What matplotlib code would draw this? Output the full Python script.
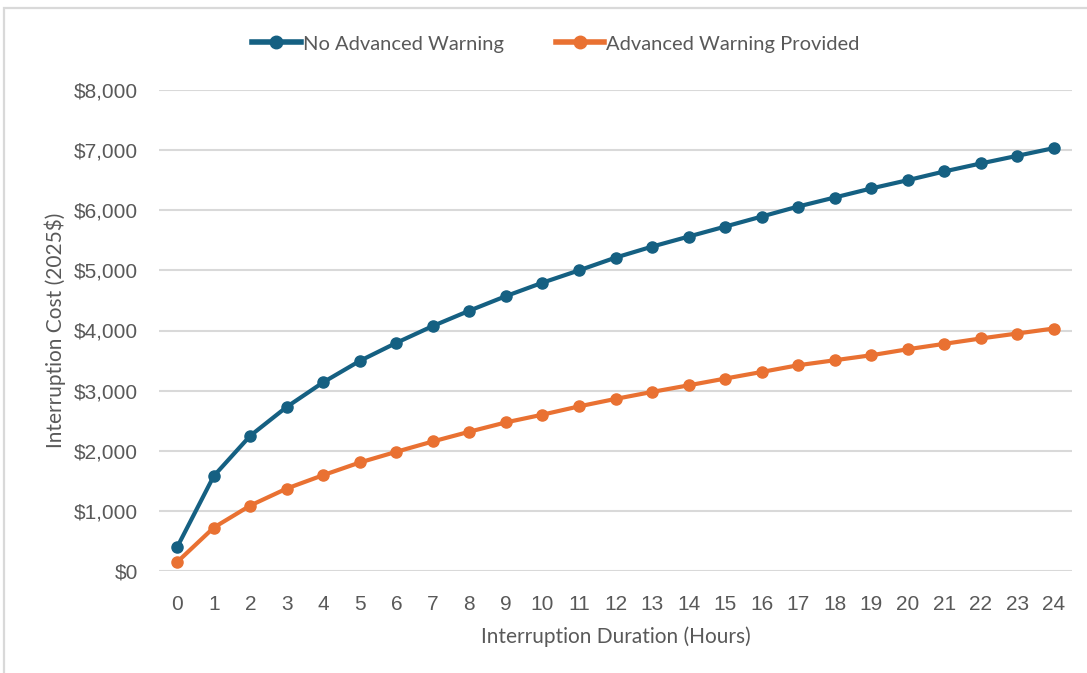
import matplotlib
matplotlib.use("Agg")
import matplotlib.pyplot as plt
from matplotlib.patches import Rectangle
from matplotlib.ticker import FuncFormatter
from matplotlib.lines import Line2D

# Interruption duration (hours) and estimated cost (2025$)
hours = list(range(0, 25))
no_warning = [400, 1580, 2250, 2730, 3140, 3495, 3795, 4075, 4330, 4572,
              4795, 5000, 5212, 5395, 5562, 5728, 5895, 6062, 6212, 6362,
              6500, 6645, 6778, 6905, 7033]
warning_provided = [150, 722, 1089, 1372, 1595, 1805, 1983, 2155, 2317, 2472,
                    2600, 2738, 2862, 2978, 3088, 3200, 3310, 3422, 3505, 3588,
                    3688, 3778, 3867, 3950, 4033]

series_labels = ["No Advanced Warning", "Advanced Warning Provided"]
series_colors = ["#156082", "#E97132"]
y_ticks = [0, 1000, 2000, 3000, 4000, 5000, 6000, 7000, 8000]

text_color = "#595959"
grid_color = "#D9D9D9"

W, H = 1087, 673
fig = plt.figure(figsize=(W / 100, H / 100), dpi=100)
fig.patch.set_facecolor("white")

# chart-area border
fig.patches.append(Rectangle((4 / W, -0.05), 1.2, (H - 8) / H + 0.05,
                             transform=fig.transFigure, fill=False,
                             edgecolor=grid_color, linewidth=1.6, zorder=0))

ax = fig.add_axes([159 / W, 1 - 571 / H, (1072 - 159) / W, (571 - 90) / H])
ax.set_facecolor("none")

for vals, lab, col in zip([no_warning, warning_provided], series_labels, series_colors):
    ax.plot(hours, vals, color=col, linewidth=3.0, marker="o", markersize=8,
            markeredgecolor=col, markerfacecolor=col, label=lab, zorder=3,
            clip_on=False)

ax.set_xlim(-0.5, 24.5)
ax.set_ylim(0, 8000)
ax.set_yticks(y_ticks)
ax.set_xticks(hours)
ax.yaxis.set_major_formatter(FuncFormatter(lambda v, p: f"${v:,.0f}"))

for s in ax.spines.values():
    s.set_visible(False)
ax.grid(axis="y", color=grid_color, linewidth=1.5, zorder=0)
ax.tick_params(axis="both", length=0, labelsize=15, labelcolor=text_color)
ax.tick_params(axis="x", pad=17)
ax.tick_params(axis="y", pad=15)
for lbl in ax.get_xticklabels() + ax.get_yticklabels():
    lbl.set_fontfamily("Liberation Sans")

ax.set_xlabel("Interruption Duration (Hours)", fontsize=15, color=text_color,
              family="Lato", labelpad=9)
ax.set_ylabel("Interruption Cost (2025$)", fontsize=15, color=text_color,
              family="Lato", labelpad=6)

handles = [Line2D([0], [0], color=c, linewidth=4, marker="o", markersize=9)
           for c in series_colors]
fig.legend(handles, series_labels, loc="center", bbox_to_anchor=(556 / W, 1 - 44 / H),
           ncol=2, frameon=False, prop={"family": "Lato", "size": 14.5},
           labelcolor=text_color, handlelength=2.4, handletextpad=0.1,
           columnspacing=2.6)

fig.savefig("out.png", dpi=100, facecolor="white")
